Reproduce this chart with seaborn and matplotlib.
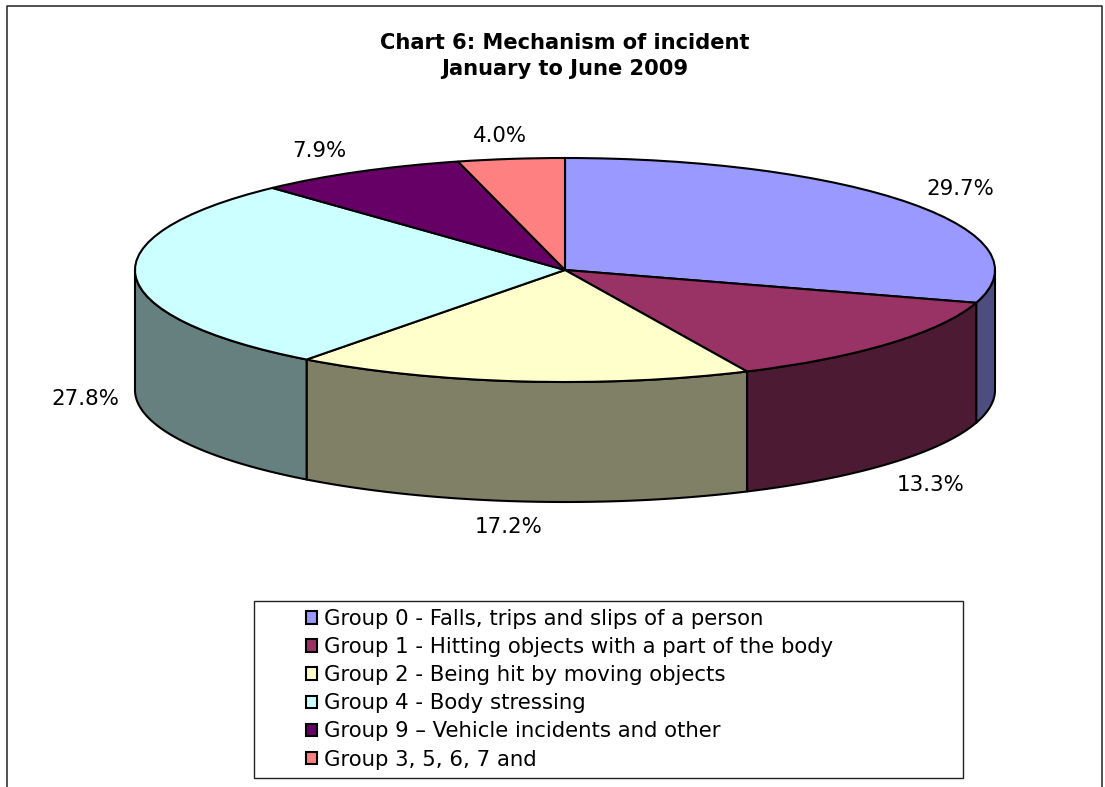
import numpy as np
import matplotlib
matplotlib.use("Agg")
import matplotlib.pyplot as plt
from matplotlib.lines import Line2D
from matplotlib.patches import Rectangle
import seaborn as sns

TITLE = "Chart 6: Mechanism of incident\nJanuary to June 2009"
categories = [
    "Group 0 - Falls, trips and slips of a person",
    "Group 1 - Hitting objects with a part of the body",
    "Group 2 - Being hit by moving objects",
    "Group 4 - Body stressing",
    "Group 9 \u2013 Vehicle incidents and other",
    "Group 3, 5, 6, 7 and",
]
values = [29.7, 13.3, 17.2, 27.8, 7.9, 4.0]
top_colors = ["#9999FF", "#993366", "#FFFFCC", "#CCFFFF", "#660066", "#FF8080"]

W, H = 1105, 787
CX, CY, RX, RY, DEPTH = 565, 270, 430, 112, 120
label_px = [(960, 189), (931, 485), (509, 527), (85, 399), (319, 151), (500, 136)]

sns.set_theme(style="white")
plt.rcParams["font.family"] = ["DejaVu Sans"]
palette = sns.color_palette(top_colors)

fig = plt.figure(figsize=(W / 100, H / 100), dpi=100, facecolor="white")
ax = fig.add_axes([0, 0, 1, 1])
wedges, _ = ax.pie(values, colors=palette, startangle=90, counterclock=False, radius=1,
                   wedgeprops=dict(edgecolor="black", linewidth=1.5, zorder=3))
ax.set_aspect("auto")
ax.set_xlim(-CX / RX, (W - CX) / RX)
ax.set_ylim((CY - H) / RY, CY / RY)
ax.axis("off")

# Side wall: each slice's share of the front half of the rim, extruded downward.
depth = DEPTH / RY
ends = np.cumsum(values) / sum(values) * 360
starts = np.concatenate([[0], ends[:-1]])
for a0, a1, col in zip(starts, ends, palette):
    lo, hi = max(a0, 90), min(a1, 270)
    if hi <= lo:
        continue
    t = np.radians(np.linspace(lo, hi, 80))
    x, y = np.sin(t), np.cos(t)
    ax.fill(np.r_[x, x[::-1]], np.r_[y, y[::-1] - depth],
            facecolor=tuple(c * 0.5 for c in col), edgecolor="black", linewidth=1.5,
            joinstyle="round", zorder=1)


def fx(px):
    return px / W


def fy(py):
    return 1 - py / H


for v, (px, py) in zip(values, label_px):
    fig.text(fx(px), fy(py), f"{v:.1f}%", ha="center", va="center", fontsize=15.4, color="black")

fig.text(fx(565), fy(56), TITLE, ha="center", va="center", fontsize=15.1, fontweight="bold",
         color="black", linespacing=1.42)

# Outer chart frame, cut off at the bottom edge of the image
fig.add_artist(Line2D([fx(7), fx(7), fx(1102), fx(1102)], [0, fy(6), fy(6), 0],
                      color="#222222", linewidth=1.1))

# Legend box
fig.add_artist(Rectangle((fx(254), fy(778)), (963 - 254) / W, (778 - 601) / H, transform=fig.transFigure,
                         facecolor="white", edgecolor="#222222", linewidth=1.0, zorder=4))
leg = fig.legend(wedges, categories, loc="upper left", bbox_to_anchor=(fx(306), fy(609)),
                 frameon=False, fontsize=15.35, handlelength=0.52, handleheight=0.52, handletextpad=0.33,
                 labelspacing=0.38, borderpad=0, borderaxespad=0, labelcolor="black")
leg.set_zorder(5)

fig.savefig("out.png", dpi=100)
